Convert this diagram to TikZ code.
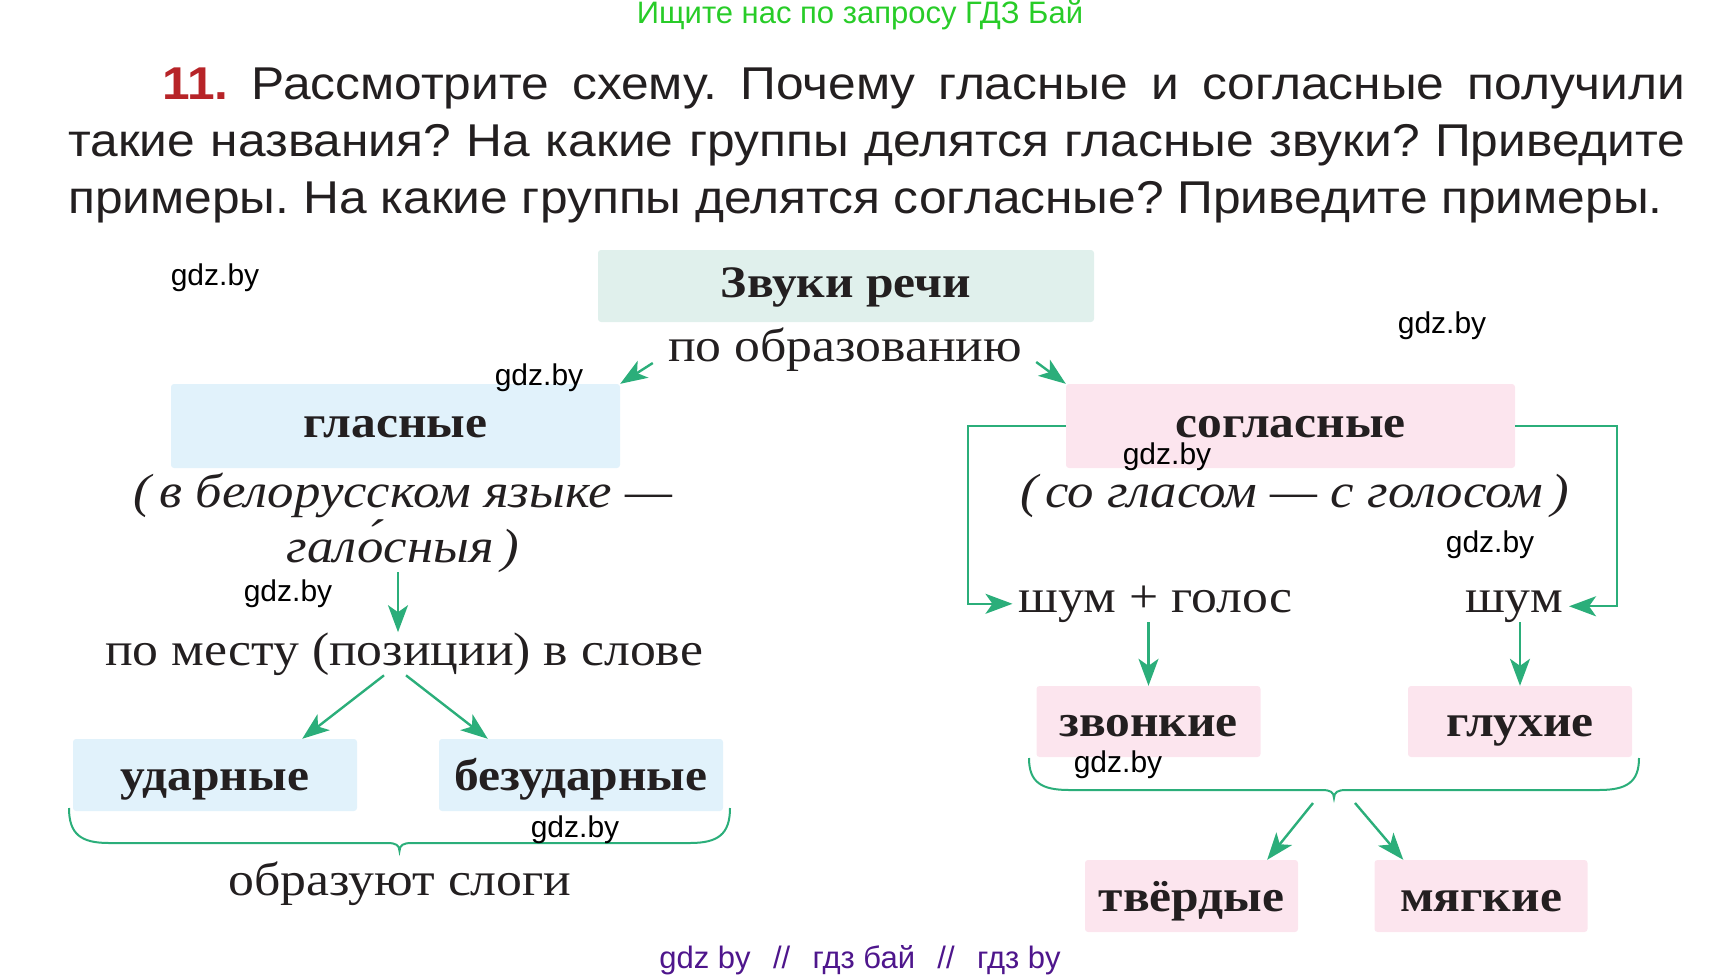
\documentclass[tikz,border=0pt]{standalone}
\usepackage{fontspec}
\setmainfont{Liberation Serif}[FakeStretch=1.1]
\setsansfont{Liberation Sans}
\newfontfamily\taskfont{Liberation Sans}[FakeStretch=1.08]
\usetikzlibrary{arrows.meta,calc}

\definecolor{arrgreen}{RGB}{43,174,122}
\definecolor{tealfill}{RGB}{224,240,236}
\definecolor{bluefill}{RGB}{225,242,251}
\definecolor{pinkfill}{RGB}{252,229,238}
\definecolor{numred}{RGB}{183,36,40}
\definecolor{wmgreen}{RGB}{40,204,40}
\definecolor{wmpurple}{RGB}{78,22,140}
\definecolor{ink}{RGB}{35,31,32}

\tikzset{
  box/.style={rounded corners=3pt,inner sep=0pt,text=ink,text height=36pt,text depth=6pt,
              font=\fontsize{45}{45}\selectfont\bfseries},
  bigbox/.style={box,text height=28pt,minimum width=449pt,minimum height=84pt},
  bluebox/.style={box,fill=bluefill,minimum width=284pt,minimum height=72pt},
  pinkbox/.style={box,fill=pinkfill,minimum width=224pt,minimum height=71pt},
  lbl/.style={inner sep=0pt,anchor=base,text=ink,font=\fontsize{47}{47}\selectfont},
  ital/.style={lbl,font=\fontsize{48}{48}\selectfont\itshape},
  wm/.style={inner sep=0pt,font=\sffamily\fontsize{30}{30}\selectfont},
  arr/.style={->,draw=arrgreen,line width=2.4pt},
  brc/.style={draw=arrgreen,line width=2pt}
}

\begin{document}
\begin{tikzpicture}[x=1pt,y=-1pt,>={Stealth[length=27pt,width=20pt,inset=7pt]}]
  \useasboundingbox (0,0) rectangle (1722,978);

  \node[wm,text=wmgreen,font=\sffamily\fontsize{31}{31}\selectfont] (search) at (860,15) {Ищите нас по запросу ГДЗ Бай};
  \node[inner sep=0pt,anchor=north west,text width=1617pt,align=justify,text=ink,
        font=\taskfont\fontsize{46}{57}\selectfont] (task) at (68,68)
    {\frenchspacing\hyphenpenalty=10000\tolerance=10000\hspace*{94pt}\textcolor{numred}{\bfseries 11.}
     Рассмотрите схему. Почему гласные и согласные получили\linebreak
     такие названия? На какие группы делятся гласные звуки? Приведите\linebreak
     примеры. На какие группы делятся согласные? Приведите примеры.};

  \node[bigbox,fill=tealfill,minimum width=496pt,minimum height=72pt] (zvuki) at (846,286) {Звуки речи};
  \node[lbl] (obraz) at (845,361) {по образованию};
  \node[bigbox,fill=bluefill] (glas) at (395.5,426) {гласные};
  \node[bigbox,fill=pinkfill] (sogl) at (1290.5,426) {согласные};

  \node[ital] (belar) at (403,507) {(\,в белорусском языке —};
  \node[ital] (galos) at (403,562) {гало́сныя\,)};
  \node[lbl] (mesto) at (404,665) {по месту (позиции) в слове};
  \node[bluebox] (udar) at (215,775) {ударные};
  \node[bluebox] (bezud) at (581,775) {безударные};
  \node[lbl] (slogi) at (400,895) {образуют слоги};

  \node[ital] (golos) at (1294.5,507) {(\,со гласом — с голосом\,)};
  \node[lbl] (shg) at (1155.5,612) {шум + голос};
  \node[lbl] (shum) at (1514,612) {шум};
  \node[pinkbox] (zvon) at (1148.5,721.5) {звонкие};
  \node[pinkbox] (gluh) at (1520,721.5) {глухие};
  \node[pinkbox,minimum width=213pt,minimum height=72pt] (tverd) at (1191.5,896) {твёрдые};
  \node[pinkbox,minimum width=213pt,minimum height=72pt] (myag) at (1481,896) {мягкие};

  \draw[arr] ($(obraz.base west)+(-15,2)$) -- (glas.north east);
  \draw[arr] ($(obraz.base east)+(14,1)$) -- (sogl.north west);
  \draw[arr] ($(galos.south)+(-5,0)$) -- ($(mesto.north)+(-6,0)$);
  \draw[arr] ($(mesto.south)+(-20,0)$) -- ($(udar.north east)+(-55,0)$);
  \draw[arr] ($(mesto.south)+(2,0)$) -- ($(bezud.north west)+(49,0)$);
  \draw[arr,shorten >=6pt] (sogl.west) -- ++(-98,0) |- (shg.west);
  \draw[arr,shorten >=6pt] (sogl.east) -- ++(102,0) |- (shum.east);
  \draw[arr] (shg.south -| zvon.north) -- (zvon.north);
  \draw[arr] (shum.south -| gluh.north) -- (gluh.north);

  \foreach \xa/\xb/\yt/\h in {69/730/808/35, 1029/1639/758/32}
    {
    \pgfmathsetmacro{\xm}{(\xa+\xb)/2}
    \draw[brc] (\xa,\yt) .. controls (\xa,\yt+0.75*\h) and (\xa+12,\yt+\h) .. (\xa+40,\yt+\h)
      -- (\xm-12,\yt+\h) .. controls (\xm-4,\yt+\h) and (\xm,\yt+\h+2) .. (\xm,\yt+\h+8)
      .. controls (\xm,\yt+\h+2) and (\xm+4,\yt+\h) .. (\xm+12,\yt+\h)
      -- (\xb-40,\yt+\h) .. controls (\xb-12,\yt+\h) and (\xb,\yt+0.75*\h) .. (\xb,\yt);
    }
  \coordinate (brace) at (1334,798);
  \draw[arr] ($(brace)+(-21,5)$) -- ($(tverd.north east)+(-31,0)$);
  \draw[arr] ($(brace)+(21,5)$) -- ($(myag.north west)+(29,0)$);

  \foreach \x/\y [count=\i] in {215/278, 539/378, 1442/326, 1167/457, 1490/545, 288/594, 575/830, 1118/765}
    \node[wm] (gdz\i) at (\x,\y) {gdz.by};
  \node[wm,text=wmpurple,font=\sffamily\fontsize{31}{31}\selectfont] (footer) at (860,960)
    {gdz by \ \,//\ \, гдз бай \ \,//\ \, гдз by};
\end{tikzpicture}
\end{document}
